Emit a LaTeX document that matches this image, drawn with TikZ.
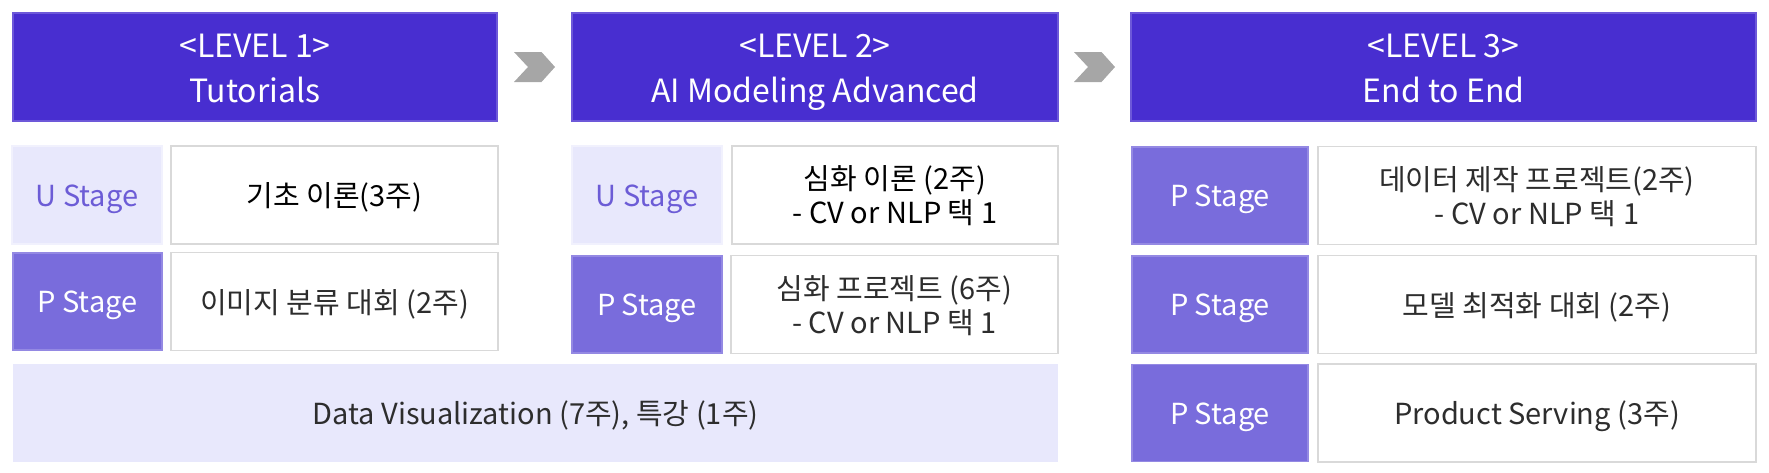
\documentclass[tikz,border=0pt]{standalone}
\usepackage{fontspec}
\setmainfont{Noto Sans CJK KR}
\usetikzlibrary{calc}
\definecolor{hdr}{RGB}{72,46,208}
\definecolor{pst}{RGB}{121,108,220}
\definecolor{ust}{RGB}{232,232,252}
\definecolor{utxt}{RGB}{108,92,214}
\definecolor{cbd}{RGB}{217,217,217}
\definecolor{arr}{RGB}{166,166,166}
\definecolor{ctxt}{RGB}{45,45,45}
\newcommand\lowtxt[2]{\raisebox{-#1}[\height][\depth]{\begin{tabular}{@{}c@{}}#2\end{tabular}}}
\newcommand\bx[1]{\lowtxt{2.3pt}{#1}}
\newcommand\hd[1]{\lowtxt{2pt}{#1}}
\begin{document}
\begin{tikzpicture}[x=0.5pt,y=-0.5pt,
  base/.style={inner sep=0pt, line width=0.8pt},
  header/.style={base, fill=hdr, draw=hdr!80!white, text=white, font=\fontsize{16}{22.5}\selectfont, minimum height=54pt},
  txt/.style={font=\fontsize{14.5}{16.5}\selectfont},
  ubox/.style={base, txt, fill=ust, draw=ust!60!white, text=utxt},
  pbox/.style={base, txt, fill=pst, draw=pst!80!white, text=white},
  cbox/.style={base, txt, fill=white, draw=cbd, text=ctxt},
  dvbox/.style={base, txt, fill=ust, draw=none, text=ctxt},
  chev/.pic={\fill[arr] (-20.5,-15) -- (7,-15) -- (20.5,0) -- (7,15) -- (-20.5,15) -- (-6.5,0) -- cycle;}
]
\useasboundingbox (0,0) rectangle (1769,472);
% headers
\node[header, minimum width=242pt] (h1) at (255,67) {\hd{<LEVEL 1>\\Tutorials}};
\node[header, minimum width=243pt] (h2) at (815,67) {\hd{<LEVEL 2>\\AI Modeling Advanced}};
\node[header, minimum width=312.5pt] (h3) at (1443.5,67) {\hd{<LEVEL 3>\\End to End}};
\pic at ($(h1.east)!0.5!(h2.west)$) {chev};
\pic at ($(h2.east)!0.5!(h3.west)$) {chev};
% level 1
\node[ubox, minimum width=75pt, minimum height=49pt] (u1) at (87,195) {\bx{U Stage}};
\node[cbox, minimum width=163.5pt, minimum height=49pt, text=black] (c1) at (334.5,195) {\bx{기초 이론(3주)}};
\node[pbox, minimum width=74.5pt, minimum height=48.5pt] (p1) at (87.5,301.5) {\bx{P Stage}};
\node[cbox, minimum width=163.5pt, minimum height=49pt] (c1b) at (334.5,301.5) {\bx{이미지 분류 대회 (2주)}};
% level 2
\node[ubox, minimum width=75pt, minimum height=49pt] (u2) at (647,195) {\bx{U Stage}};
\node[cbox, minimum width=163pt, minimum height=49pt, text=black] (c2) at (895,195) {\bx{심화 이론 (2주)\\- CV or NLP 택 1}};
\node[pbox, minimum width=75pt, minimum height=48.5pt] (p2) at (647,304.5) {\bx{P Stage}};
\node[cbox, minimum width=163.5pt, minimum height=49pt] (c2b) at (894.5,304.5) {\bx{심화 프로젝트 (6주)\\- CV or NLP 택 1}};
% bottom bar
\node[dvbox, minimum width=522.5pt, minimum height=49pt] (dv) at (535.5,413) {\bx{Data Visualization (7주), 특강 (1주)}};
% level 3
\node[pbox, minimum width=88pt, minimum height=48.5pt] (p3a) at (1220,195.5) {\bx{P Stage}};
\node[cbox, minimum width=219pt, minimum height=49pt] (c3a) at (1537,195.5) {\bx{데이터 제작 프로젝트(2주)\\- CV or NLP 택 1}};
\node[pbox, minimum width=88pt, minimum height=48.5pt] (p3b) at (1220,304.5) {\bx{P Stage}};
\node[cbox, minimum width=219pt, minimum height=49pt] (c3b) at (1537,304.5) {\bx{모델 최적화 대회 (2주)}};
\node[pbox, minimum width=88pt, minimum height=48.5pt] (p3c) at (1220,413) {\bx{P Stage}};
\node[cbox, minimum width=219pt, minimum height=49pt] (c3c) at (1537,413) {\bx{Product Serving (3주)}};
\end{tikzpicture}
\end{document}
